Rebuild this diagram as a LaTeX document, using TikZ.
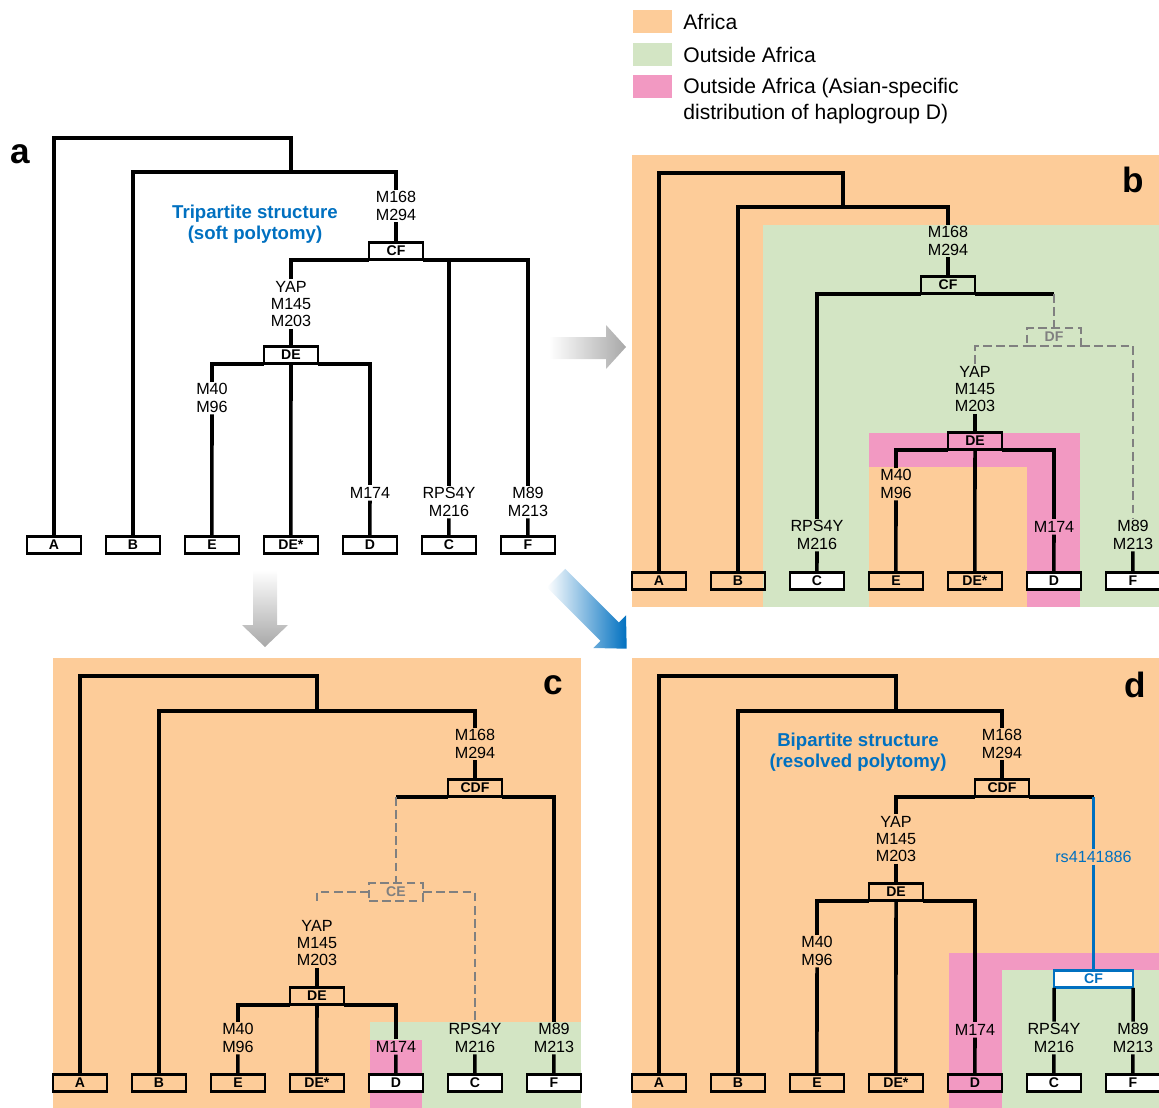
\documentclass[tikz,border=0pt]{standalone}
\usepackage{fontspec}
\setmainfont{Liberation Sans}
\usetikzlibrary{positioning}
\definecolor{africa}{RGB}{253,204,153}
\definecolor{outside}{RGB}{211,229,196}
\definecolor{asian}{RGB}{242,153,194}
\definecolor{snpblue}{RGB}{0,112,192}
\definecolor{dashgray}{RGB}{128,128,128}
\definecolor{arrowgray}{RGB}{168,168,168}

\begin{document}
\begin{tikzpicture}[x=0.02cm,y=-0.02cm,node distance=0.5cm,
  leaf/.style={draw,line width=1.5pt,minimum width=1.08cm,minimum height=0.35cm,inner sep=0pt,outer sep=0pt,font=\bfseries\fontsize{8}{8}\selectfont},
  ghost/.style={leaf,draw=dashgray,text=dashgray,dash pattern=on 5pt off 2.5pt,line width=1.1pt},
  mut/.style={align=center,inner sep=1pt,font=\fontsize{9.2}{9.8}\selectfont},
  note/.style={align=center,inner sep=0pt,text=snpblue,font=\bfseries\fontsize{10.6}{12.3}\selectfont},
  panel/.style={inner sep=0pt,font=\bfseries\fontsize{20}{20}\selectfont},
  key/.style={minimum width=0.78cm,minimum height=0.46cm,inner sep=0pt},
  keytext/.style={anchor=west,inner sep=0pt,align=left,font=\fontsize{12}{14.7}\selectfont},
  branch/.style={line width=2pt},
  unsure/.style={draw=dashgray,line width=1.1pt,dash pattern=on 5pt off 2.5pt},
  snp/.style={draw=snpblue,line width=2pt}]

  \useasboundingbox (0,0) rectangle (1159,1108);

  \node[key,fill=africa] (kaf) at (652,21.5) {};
  \node[key,fill=outside] (kout) at (652,54.5) {};
  \node[key,fill=asian] (kasia) at (652,86.5) {};
  \node[keytext] (taf) at (683,22) {Africa};
  \node[keytext] (tout) at (683,55) {Outside Africa};
  \node[keytext] (tasia) at (683,101) {Outside Africa (Asian-specific\\distribution of haplogroup D)};

  \shade[left color=white,right color=arrowgray] (549,337) -- (606,337) -- (606,325) -- (626,347) -- (606,369) -- (606,359) -- (549,359) -- cycle;
  \shade[top color=white,bottom color=arrowgray] (253,570) -- (277,570) -- (277,625) -- (288,625) -- (265,647) -- (242,625) -- (253,625) -- cycle;
  \begin{scope}[shift={(556,578)},rotate=-45]
    \shade[left color=white,right color=snpblue] (0,-13) -- (76,-13) -- (76,-23) -- (100,0) -- (76,23) -- (76,13) -- (0,13) -- cycle;
  \end{scope}

  \node[panel] (alab) at (20,154) {a};
  \node[note] (atitle) at (255,224) {Tripartite structure\\(soft polytomy)};
  \node[leaf] (aA) at (54,545) {A};
  \node[leaf,right=of aA] (aB) {B};
  \node[leaf,right=of aB] (aE) {E};
  \node[leaf,right=of aE] (aDEs) {DE*};
  \node[leaf,right=of aDEs] (aD) {D};
  \node[leaf,right=of aD] (aC) {C};
  \node[leaf,right=of aC] (aF) {F};
  \node[mut] (a168) at (396,206) {M168\\M294};
  \node[leaf] (aCF) at (396,251) {CF};
  \node[mut] (aYAP) at (291,304) {YAP\\M145\\M203};
  \node[leaf] (aDE) at (291,355) {DE};
  \node[mut] (aE96) at (212,398) {M40\\M96};
  \node[mut] (aD174) at (370,493) {M174};
  \node[mut] (aC216) at (449,502) {RPS4Y\\M216};
  \node[mut] (aF213) at (528,502) {M89\\M213};
  \coordinate (aroot) at (291,138);
  \coordinate (acf) at (396,172);
  \draw[branch] (aA) |- (aroot) -- (aroot |- acf);
  \draw[branch] (aB) |- (acf) -- (a168);
  \draw[branch] (a168) -- (aCF);
  \draw[branch] (aYAP) |- (aCF.south west);
  \draw[branch] (aCF.south east) -| (aF213);
  \draw[branch] (aC216) -- (aC216 |- aCF.south);
  \draw[branch] (aYAP) -- (aDE);
  \draw[branch] (aE96) |- (aDE.south west);
  \draw[branch] (aDE.south east) -| (aD174);
  \draw[branch] (aDE) -- (aDEs);
  \draw[branch] (aE96) -- (aE);
  \draw[branch] (aD174) -- (aD);
  \draw[branch] (aC216) -- (aC);
  \draw[branch] (aF213) -- (aF);

  \fill[africa] (632,155) rectangle (1159,607);
  \fill[outside] (763,225) rectangle (1159,607);
  \fill[asian] (869,433) rectangle (1080,607);
  \fill[africa] (869,467) rectangle (1027,607);
  \node[panel] (blab) at (1133,180) {b};
  \node[leaf] (bA) at (659,581) {A};
  \node[leaf,right=of bA] (bB) {B};
  \node[leaf,right=of bB,fill=white] (bC) {C};
  \node[leaf,right=of bC] (bE) {E};
  \node[leaf,right=of bE] (bDEs) {DE*};
  \node[leaf,right=of bDEs,fill=white] (bD) {D};
  \node[leaf,right=of bD,fill=white] (bF) {F};
  \node[mut] (b168) at (948,241) {M168\\M294};
  \node[leaf] (bCF) at (948,285) {CF};
  \node[ghost] (bDF) at (1054,337) {DF};
  \node[mut] (bYAP) at (975,389) {YAP\\M145\\M203};
  \node[leaf] (bDE) at (975,441) {DE};
  \node[mut] (bE96) at (896,484) {M40\\M96};
  \node[mut] (bD174) at (1054,527) {M174};
  \node[mut] (bC216) at (817,535) {RPS4Y\\M216};
  \node[mut] (bF213) at (1133,535) {M89\\M213};
  \coordinate (broot) at (843,173);
  \coordinate (bcf) at (948,207);
  \draw[branch] (bA) |- (broot) -- (broot |- bcf);
  \draw[branch] (bB) |- (bcf) -- (b168);
  \draw[branch] (b168) -- (bCF);
  \draw[branch] (bC216) |- (bCF.south west);
  \draw[branch] (bCF.south east) -- (bCF.south -| bDF);
  \draw[unsure] (bCF.south -| bDF) -- (bDF);
  \draw[unsure] (bYAP) |- (bDF.south west);
  \draw[unsure] (bDF.south east) -| (bF213);
  \draw[branch] (bYAP) -- (bDE);
  \draw[branch] (bE96) |- (bDE.south west);
  \draw[branch] (bDE.south east) -| (bD174);
  \draw[branch] (bDE) -- (bDEs);
  \draw[branch] (bE96) -- (bE);
  \draw[branch] (bD174) -- (bD);
  \draw[branch] (bC216) -- (bC);
  \draw[branch] (bF213) -- (bF);

  \fill[africa] (53,658) rectangle (581,1108);
  \fill[outside] (370,1022) rectangle (581,1108);
  \fill[asian] (370,1040) rectangle (422,1108);
  \node[panel] (clab) at (553,685) {c};
  \node[leaf] (cA) at (80,1083) {A};
  \node[leaf,right=of cA] (cB) {B};
  \node[leaf,right=of cB] (cE) {E};
  \node[leaf,right=of cE] (cDEs) {DE*};
  \node[leaf,right=of cDEs,fill=white] (cD) {D};
  \node[leaf,right=of cD,fill=white] (cC) {C};
  \node[leaf,right=of cC,fill=white] (cF) {F};
  \node[mut] (c168) at (475,744) {M168\\M294};
  \node[leaf] (cCDF) at (475,788) {CDF};
  \node[ghost] (cCE) at (396,892) {CE};
  \node[mut] (cYAP) at (317,943) {YAP\\M145\\M203};
  \node[leaf] (cDE) at (317,996) {DE};
  \node[mut] (cE96) at (238,1038) {M40\\M96};
  \node[mut] (cD174) at (396,1047) {M174};
  \node[mut] (cC216) at (475,1038) {RPS4Y\\M216};
  \node[mut] (cF213) at (554,1038) {M89\\M213};
  \coordinate (croot) at (317,676);
  \coordinate (ccdf) at (475,711);
  \draw[branch] (cA) |- (croot) -- (croot |- ccdf);
  \draw[branch] (cB) |- (ccdf) -- (c168);
  \draw[branch] (c168) -- (cCDF);
  \draw[branch] (cCDF.south east) -| (cF213);
  \draw[branch] (cCDF.south west) -- (cCDF.south -| cCE);
  \draw[unsure] (cCDF.south -| cCE) -- (cCE);
  \draw[unsure,shorten >=0.3cm] (cCE.west) -| (cYAP);
  \draw[unsure] (cCE.east) -| (cC216);
  \draw[branch] (cYAP) -- (cDE);
  \draw[branch] (cE96) |- (cDE.south west);
  \draw[branch] (cDE.south east) -| (cD174);
  \draw[branch] (cDE) -- (cDEs);
  \draw[branch] (cE96) -- (cE);
  \draw[branch] (cD174) -- (cD);
  \draw[branch] (cC216) -- (cC);
  \draw[branch] (cF213) -- (cF);

  \fill[africa] (632,658) rectangle (1159,1108);
  \fill[asian] (949,953) rectangle (1159,1108);
  \fill[outside] (1002,970) rectangle (1159,1108);
  \node[panel] (dlab) at (1135,685) {d};
  \node[note] (dtitle) at (858,752) {Bipartite structure\\(resolved polytomy)};
  \node[leaf] (dA) at (659,1083) {A};
  \node[leaf,right=of dA] (dB) {B};
  \node[leaf,right=of dB] (dE) {E};
  \node[leaf,right=of dE] (dDEs) {DE*};
  \node[leaf,right=of dDEs] (dD) {D};
  \node[leaf,right=of dD,fill=white] (dC) {C};
  \node[leaf,right=of dC,fill=white] (dF) {F};
  \node[mut] (d168) at (1002,744) {M168\\M294};
  \node[leaf] (dCDF) at (1002,788) {CDF};
  \node[mut] (dYAP) at (896,839) {YAP\\M145\\M203};
  \node[leaf] (dDE) at (896,892) {DE};
  \node[mut] (dE96) at (817,951) {M40\\M96};
  \node[mut] (dD174) at (975,1030) {M174};
  \node[mut,text=snpblue] (drs) at (1093.5,857) {rs4141886};
  \node[leaf,draw=snpblue,text=snpblue,fill=white,minimum width=1.58cm] (dCF) at (1093.5,979) {CF};
  \node[mut] (dC216) at (1054,1038) {RPS4Y\\M216};
  \node[mut] (dF213) at (1133,1038) {M89\\M213};
  \coordinate (droot) at (896,676);
  \coordinate (dcdf) at (1002,711);
  \draw[branch] (dA) |- (droot) -- (droot |- dcdf);
  \draw[branch] (dB) |- (dcdf) -- (d168);
  \draw[branch] (d168) -- (dCDF);
  \draw[branch] (dYAP) |- (dCDF.south west);
  \draw[branch] (dCDF.south east) -- (dCDF.south -| dCF);
  \draw[snp] (dCDF.south -| dCF) -- (drs);
  \draw[snp] (drs) -- (dCF);
  \draw[branch] (dCF.south west) -- (dC216);
  \draw[branch] (dCF.south east) -- (dF213);
  \draw[branch] (dYAP) -- (dDE);
  \draw[branch] (dE96) |- (dDE.south west);
  \draw[branch] (dDE.south east) -| (dD174);
  \draw[branch] (dDE) -- (dDEs);
  \draw[branch] (dE96) -- (dE);
  \draw[branch] (dD174) -- (dD);
  \draw[branch] (dC216) -- (dC);
  \draw[branch] (dF213) -- (dF);
\end{tikzpicture}
\end{document}
